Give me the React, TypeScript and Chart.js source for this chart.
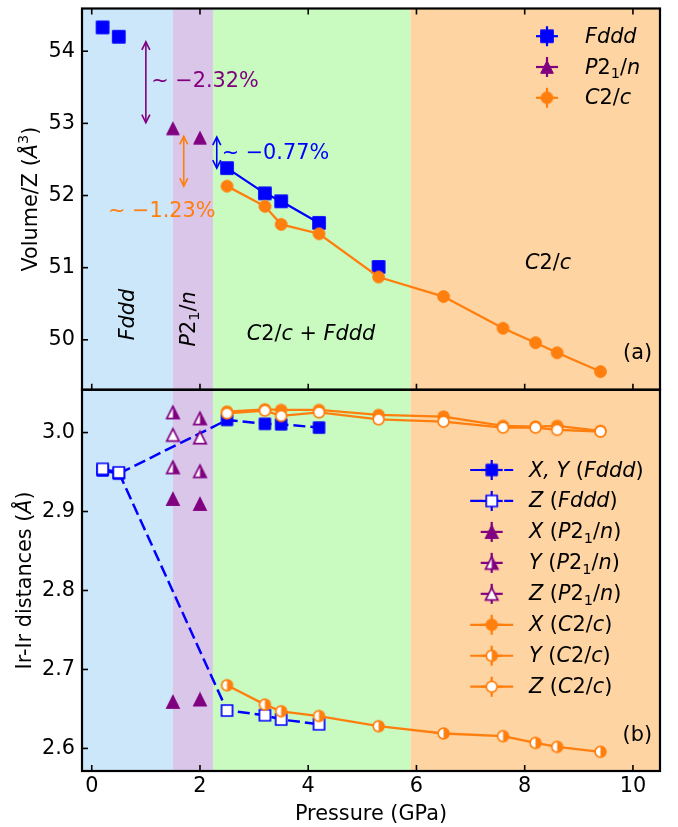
import React, { useEffect, useRef } from 'react';
import { Chart, registerables } from 'chart.js';

Chart.register(...registerables);

const FONT = '"DejaVu Sans", "Liberation Sans", sans-serif';
const FS = 20.8;
const BLUE = '#0000ff';
const PURPLE = '#800080';
const ORANGE = '#ff7f0e';

// ---------- Panel (a): Volume/Z vs pressure ----------
const pFdddVol = [0.2, 0.5, 2.5, 3.2, 3.5, 4.2, 5.3];
const vFddd = [54.33, 54.2, 52.38, 52.03, 51.92, 51.62, 51.01];
const pP21nVol = [1.5, 2.0];
const vP21n = [52.93, 52.8];
const pC2c = [2.5, 3.2, 3.5, 4.2, 5.3, 6.5, 7.6, 8.2, 8.6, 9.4];
const vC2c = [52.13, 51.85, 51.6, 51.47, 50.87, 50.6, 50.16, 49.96, 49.82, 49.56];

// ---------- Panel (b): Ir-Ir distances vs pressure ----------
const pFddd = [0.2, 0.5, 2.5, 3.2, 3.5, 4.2];
const dFdddXY = [2.952, 2.948, 3.016, 3.011, 3.0105, 3.0063];
const dFdddZ = [2.954, 2.9495, 2.648, 2.642, 2.6366, 2.6306];
const pP21nX = [1.5, 1.5, 2.0, 2.0];
const dP21nX = [2.916, 2.659, 2.9096, 2.662];
const pP21nY = [1.5, 1.5, 2.0, 2.0];
const dP21nY = [3.0256, 2.956, 3.018, 2.951];
const pP21nZ = [1.5, 2.0];
const dP21nZ = [2.997, 2.9937];
const dC2cX = [3.0265, 3.0294, 3.0286, 3.0286, 3.0223, 3.0202, 3.0084, 3.0076, 3.0084, 3.002];
const dC2cY = [2.68, 2.6555, 2.647, 2.641, 2.6281, 2.6189, 2.6155, 2.607, 2.602, 2.5957];
const dC2cZ = [3.0243, 3.0277, 3.0211, 3.0256, 3.0168, 3.0139, 3.0063, 3.0063, 3.0034, 3.0013];

// ---------- axes ----------
const xMin = -0.18;
const xMax = 10.5;
const yMinA = 49.308;
const yMaxA = 54.592;
const yMinB = 2.5714;
const yMaxB = 3.0542;
const xTicks = [0, 2, 4, 6, 8, 10];
const yTicksA = [50, 51, 52, 53, 54];
const yTicksB = [2.6, 2.7, 2.8, 2.9, 3.0];

// phase regions
const bandEdges = [xMin, 1.5, 2.24, 5.89, xMax];
const bandColors = ['#cce6fa', '#dac6e9', '#c9fbc0', '#fed4a2'];

// volume-collapse annotations (pressure, top, bottom)
const arrowX = [1.0, 1.7, 2.31];
const arrowTop = [54.13, 52.82, 52.81];
const arrowBottom = [53.01, 52.13, 52.38];
const arrowColors = [PURPLE, ORANGE, BLUE];
const noteText = ['\u223C \u22122.32%', '\u223C \u22121.23%', '\u223C \u22120.77%'];
const noteX = [1.1, 0.3, 2.4];
const noteY = [53.5, 51.7, 52.5];

type Seg = { t: string; i?: boolean; sub?: boolean; sup?: boolean };
const S = (t: string, i = false, sub = false, sup = false): Seg => ({ t, i, sub, sup });
const segFddd = [S('Fddd', true)];
const segP21n = [S('P', true), S('2'), S('1', false, true), S('/'), S('n', true)];
const segC2c = [S('C', true), S('2/'), S('c', true)];

function segFont(s: Seg, size: number) {
  const sz = s.sub || s.sup ? size * 0.7 : size;
  return `${s.i ? 'italic ' : ''}${sz}px ${FONT}`;
}
function richWidth(ctx: CanvasRenderingContext2D, segs: Seg[], size: number) {
  let w = 0;
  for (const s of segs) {
    ctx.font = segFont(s, size);
    w += ctx.measureText(s.t).width;
  }
  return w;
}
function drawRich(
  ctx: CanvasRenderingContext2D,
  segs: Seg[],
  x: number,
  y: number,
  color: string,
  align: 'left' | 'center' | 'right' = 'left',
  rot = 0,
  size = FS
) {
  ctx.save();
  ctx.translate(x, y);
  ctx.rotate(rot);
  const w = richWidth(ctx, segs, size);
  let cx = align === 'left' ? 0 : align === 'center' ? -w / 2 : -w;
  ctx.fillStyle = color;
  ctx.textAlign = 'left';
  ctx.textBaseline = 'alphabetic';
  for (const s of segs) {
    ctx.font = segFont(s, size);
    const dy = s.sub ? size * 0.2 : s.sup ? -size * 0.42 : 0;
    ctx.fillText(s.t, cx, dy);
    cx += ctx.measureText(s.t).width;
  }
  ctx.restore();
}

type Fill = 'full' | 'right' | 'none';
function makeMarker(shape: 'sq' | 'tri' | 'cir', size: number, color: string, fill: Fill, lw: number) {
  const dim = Math.ceil(size + lw + 2);
  const c = document.createElement('canvas');
  c.width = dim;
  c.height = dim;
  const g = c.getContext('2d') as CanvasRenderingContext2D;
  const cx = dim / 2;
  const cy = dim / 2;
  const h = size / 2;
  const path = () => {
    g.beginPath();
    if (shape === 'sq') g.rect(cx - h, cy - h, size, size);
    else if (shape === 'tri') {
      g.moveTo(cx, cy - h);
      g.lineTo(cx + h, cy + h);
      g.lineTo(cx - h, cy + h);
      g.closePath();
    } else g.arc(cx, cy, h, 0, Math.PI * 2);
  };
  path();
  g.fillStyle = fill === 'full' ? color : '#ffffff';
  g.fill();
  if (fill === 'right') {
    g.save();
    path();
    g.clip();
    g.fillStyle = color;
    g.fillRect(cx, 0, dim, dim);
    g.restore();
  }
  path();
  g.lineWidth = lw;
  g.strokeStyle = color;
  g.stroke();
  return c;
}

const pts = (xs: number[], ys: number[]) => xs.map((x, i) => ({ x, y: ys[i] }));

function buildChart(canvas: HTMLCanvasElement) {
  const mk = {
    sqA: makeMarker('sq', 12.6, BLUE, 'full', 1),
    triA: makeMarker('tri', 12.6, PURPLE, 'full', 1),
    cirA: makeMarker('cir', 11.8, ORANGE, 'full', 1),
    sqB: makeMarker('sq', 11.4, BLUE, 'full', 1),
    sqBo: makeMarker('sq', 11, BLUE, 'none', 1.7),
    triB: makeMarker('tri', 12.8, PURPLE, 'full', 1.2),
    triBh: makeMarker('tri', 12.4, PURPLE, 'right', 1.7),
    triBo: makeMarker('tri', 12.4, PURPLE, 'none', 1.7),
    cirB: makeMarker('cir', 11.2, ORANGE, 'full', 1.2),
    cirBh: makeMarker('cir', 10.8, ORANGE, 'right', 1.7),
    cirBo: makeMarker('cir', 10.8, ORANGE, 'none', 1.7),
  };

  const legendA = [
    { segs: segFddd, marker: mk.sqA, color: BLUE },
    { segs: segP21n, marker: mk.triA, color: PURPLE },
    { segs: segC2c, marker: mk.cirA, color: ORANGE },
  ];
  const wrap = (pre: string, inner: Seg[]) => [S(pre, true), S(' ('), ...inner, S(')')];
  const legendB = [
    { segs: wrap('X, Y', segFddd), marker: mk.sqB, color: BLUE, line: 'dash' },
    { segs: wrap('Z', segFddd), marker: mk.sqBo, color: BLUE, line: 'dash' },
    { segs: wrap('X', segP21n), marker: mk.triB, color: PURPLE, line: '' },
    { segs: wrap('Y', segP21n), marker: mk.triBh, color: PURPLE, line: '' },
    { segs: wrap('Z', segP21n), marker: mk.triBo, color: PURPLE, line: '' },
    { segs: wrap('X', segC2c), marker: mk.cirB, color: ORANGE, line: 'solid' },
    { segs: wrap('Y', segC2c), marker: mk.cirBh, color: ORANGE, line: 'solid' },
    { segs: wrap('Z', segC2c), marker: mk.cirBo, color: ORANGE, line: 'solid' },
  ];

  const line = (ctx: CanvasRenderingContext2D, x1: number, y1: number, x2: number, y2: number) => {
    ctx.beginPath();
    ctx.moveTo(x1, y1);
    ctx.lineTo(x2, y2);
    ctx.stroke();
  };

  const drawLegendEntry = (
    ctx: CanvasRenderingContext2D,
    e: { segs: Seg[]; marker: HTMLCanvasElement; color: string; line?: string },
    mx: number,
    my: number,
    tx: number
  ) => {
    ctx.save();
    ctx.strokeStyle = e.color;
    ctx.lineWidth = 2.2;
    if (e.line) {
      ctx.setLineDash(e.line === 'dash' ? [12, 5] : []);
      line(ctx, mx - 21.5, my, mx + 21.5, my);
      ctx.setLineDash([]);
    }
    line(ctx, mx - 11, my, mx + 11, my);
    line(ctx, mx, my - 10, mx, my + 10);
    const m = e.marker;
    ctx.drawImage(m, mx - m.width / 2, my - m.height / 2);
    ctx.restore();
    drawRich(ctx, e.segs, tx, my + 6.5, '#000', 'left');
  };

  const overlay = {
    id: 'overlay',
    beforeDatasetsDraw(chart: any) {
      const { ctx, chartArea: ca } = chart;
      const sx = chart.scales.x;
      ctx.save();
      for (let i = 0; i < bandColors.length; i++) {
        const x0 = sx.getPixelForValue(bandEdges[i]);
        const x1 = sx.getPixelForValue(bandEdges[i + 1]);
        ctx.fillStyle = bandColors[i];
        ctx.fillRect(x0, ca.top, x1 - x0, ca.bottom - ca.top);
      }
      ctx.restore();
    },
    afterDraw(chart: any) {
      const ctx: CanvasRenderingContext2D = chart.ctx;
      const ca = chart.chartArea;
      const sx = chart.scales.x;
      const sa = chart.scales.ya;
      const sb = chart.scales.yb;
      const X = (v: number) => sx.getPixelForValue(v);
      const YA = (v: number) => sa.getPixelForValue(v);
      const YB = (v: number) => sb.getPixelForValue(v);

      // phase labels panel (a)
      drawRich(ctx, segFddd, X(0.78), YA(50.35), '#000', 'center', -Math.PI / 2);
      drawRich(ctx, segP21n, X(1.9), YA(50.29), '#000', 'center', -Math.PI / 2);
      drawRich(
        ctx,
        [S('C', true), S('2/'), S('c', true), S(' + '), S('Fddd', true)],
        X(4.05),
        YA(50.0),
        '#000',
        'center'
      );
      drawRich(ctx, segC2c, X(8.43), YA(50.98), '#000', 'center');
      drawRich(ctx, [S('(a)')], ca.right - 8, YA(49.73), '#000', 'right');
      drawRich(ctx, [S('(b)')], ca.right - 8, YB(2.6096), '#000', 'right');

      // arrows + percentages
      ctx.save();
      ctx.lineWidth = 1.6;
      for (let i = 0; i < arrowX.length; i++) {
        const x = X(arrowX[i]);
        const y1 = YA(arrowTop[i]);
        const y2 = YA(arrowBottom[i]);
        ctx.strokeStyle = arrowColors[i];
        line(ctx, x, y1, x, y2);
        ctx.beginPath();
        ctx.moveTo(x - 4, y1 + 8);
        ctx.lineTo(x, y1);
        ctx.lineTo(x + 4, y1 + 8);
        ctx.moveTo(x - 4, y2 - 8);
        ctx.lineTo(x, y2);
        ctx.lineTo(x + 4, y2 - 8);
        ctx.stroke();
      }
      ctx.restore();
      for (let i = 0; i < noteText.length; i++) {
        drawRich(ctx, [S(noteText[i])], X(noteX[i]), YA(noteY[i]), arrowColors[i], 'left');
      }

      // legends
      legendA.forEach((e, i) => drawLegendEntry(ctx, e, ca.right - 113, sa.top + 27.7 + i * 30.8, ca.right - 75));
      legendB.forEach((e, i) => drawLegendEntry(ctx, e, ca.right - 168.3, 470 + i * 30.96, ca.right - 131));

      // frames
      ctx.save();
      ctx.strokeStyle = '#000';
      ctx.lineWidth = 2.2;
      ctx.strokeRect(ca.left, sa.top, ca.right - ca.left, sa.bottom - sa.top);
      ctx.strokeRect(ca.left, sb.top, ca.right - ca.left, sb.bottom - sb.top);
      // inward ticks
      ctx.lineWidth = 1.6;
      const TL = 6;
      xTicks.forEach((v) => {
        const px = X(v);
        line(ctx, px, sa.top, px, sa.top + TL);
        line(ctx, px, sa.bottom, px, sa.bottom - TL);
        line(ctx, px, sb.bottom, px, sb.bottom - TL);
      });
      yTicksA.forEach((v) => line(ctx, ca.left, YA(v), ca.left + TL, YA(v)));
      yTicksB.forEach((v) => line(ctx, ca.left, YB(v), ca.left + TL, YB(v)));
      ctx.restore();

      // axis titles
      drawRich(
        ctx,
        [S('Volume/Z ('), S('\u00C5', true), S('3', false, false, true), S(')')],
        36.5,
        (sa.top + sa.bottom) / 2,
        '#000',
        'center',
        -Math.PI / 2
      );
      drawRich(
        ctx,
        [S('Ir-Ir distances ('), S('\u00C5', true), S(')')],
        30.5,
        (sb.top + sb.bottom) / 2,
        '#000',
        'center',
        -Math.PI / 2
      );
      drawRich(ctx, [S('Pressure (GPa)')], (ca.left + ca.right) / 2, 820, '#000', 'center');
    },
  };

  const tickFont = { family: FONT, size: FS };
  const zeroPad = (s: any) => {
    s.paddingTop = 0;
    s.paddingBottom = 0;
    s.paddingLeft = 0;
    s.paddingRight = 0;
  };
  const yScale = (min: number, max: number, ticks: number[], digits: number) => ({
    type: 'linear',
    position: 'left',
    stack: 'panels',
    stackWeight: 1,
    min,
    max,
    grid: { display: false, drawTicks: false },
    border: { display: false },
    ticks: {
      font: tickFont,
      color: '#000',
      padding: 7,
      callback: (v: any) => Number(v).toFixed(digits),
    },
    afterBuildTicks: (s: any) => {
      s.ticks = ticks.map((value) => ({ value }));
    },
    afterFit: (s: any) => {
      s.width = 82;
      zeroPad(s);
    },
  });

  const noLine = { showLine: false, pointRadius: 6, pointHoverRadius: 6 };
  const LW = 2.3;

  return new Chart(canvas, {
    type: 'line',
    data: {
      datasets: [
        // ---- panel (a)
        {
          label: 'Fddd',
          data: pts(pFdddVol, vFddd),
          yAxisID: 'ya',
          showLine: true,
          borderColor: BLUE,
          borderWidth: LW,
          pointStyle: mk.sqA,
          pointRadius: 6,
          segment: {
            borderColor: (c: any) => (c.p0DataIndex >= 2 && c.p1DataIndex <= 5 ? BLUE : 'rgba(0,0,0,0)'),
          },
          order: 10,
        },
        { label: 'P21/n', data: pts(pP21nVol, vP21n), yAxisID: 'ya', ...noLine, pointStyle: mk.triA, order: 8 },
        {
          label: 'C2/c',
          data: pts(pC2c, vC2c),
          yAxisID: 'ya',
          showLine: true,
          borderColor: ORANGE,
          borderWidth: LW,
          pointStyle: mk.cirA,
          pointRadius: 6,
          order: 3,
        },
        // ---- panel (b)
        {
          label: 'X, Y (Fddd)',
          data: pts(pFddd, dFdddXY),
          yAxisID: 'yb',
          showLine: true,
          borderColor: BLUE,
          borderWidth: 2.5,
          borderDash: [12, 5],
          pointStyle: mk.sqB,
          pointRadius: 6,
          order: 10,
        },
        {
          label: 'Z (Fddd)',
          data: pts(pFddd, dFdddZ),
          yAxisID: 'yb',
          showLine: true,
          borderColor: BLUE,
          borderWidth: 2.5,
          borderDash: [12, 5],
          pointStyle: mk.sqBo,
          pointRadius: 6,
          order: 9,
        },
        { label: 'X (P21/n)', data: pts(pP21nX, dP21nX), yAxisID: 'yb', ...noLine, pointStyle: mk.triB, order: 8 },
        { label: 'Y (P21/n)', data: pts(pP21nY, dP21nY), yAxisID: 'yb', ...noLine, pointStyle: mk.triBh, order: 7 },
        { label: 'Z (P21/n)', data: pts(pP21nZ, dP21nZ), yAxisID: 'yb', ...noLine, pointStyle: mk.triBo, order: 6 },
        {
          label: 'Y (C2/c)',
          data: pts(pC2c, dC2cY),
          yAxisID: 'yb',
          showLine: true,
          borderColor: ORANGE,
          borderWidth: LW,
          pointStyle: mk.cirBh,
          pointRadius: 6,
          order: 5,
        },
        {
          label: 'X (C2/c)',
          data: pts(pC2c, dC2cX),
          yAxisID: 'yb',
          showLine: true,
          borderColor: ORANGE,
          borderWidth: LW,
          pointStyle: mk.cirB,
          pointRadius: 6,
          order: 4,
        },
        {
          label: 'Z (C2/c)',
          data: pts(pC2c, dC2cZ),
          yAxisID: 'yb',
          showLine: true,
          borderColor: ORANGE,
          borderWidth: LW,
          pointStyle: mk.cirBo,
          pointRadius: 6,
          order: 3,
        },
      ] as any,
    },
    options: {
      responsive: false,
      animation: false,
      events: [],
      layout: { padding: { top: 4, right: 18, left: 0, bottom: 0 } },
      elements: { line: { tension: 0 } },
      plugins: { legend: { display: false }, tooltip: { enabled: false } },
      scales: {
        x: {
          type: 'linear',
          position: 'bottom',
          min: xMin,
          max: xMax,
          grid: { display: false, drawTicks: false },
          border: { display: false },
          ticks: { font: tickFont, color: '#000', padding: 3, maxRotation: 0, autoSkip: false },
          afterBuildTicks: (s: any) => {
            s.ticks = xTicks.map((value) => ({ value }));
          },
          afterFit: (s: any) => {
            s.height = 56;
            zeroPad(s);
          },
        },
        yb: yScale(yMinB, yMaxB, yTicksB, 1),
        ya: yScale(yMinA, yMaxA, yTicksA, 0),
      } as any,
    },
    plugins: [overlay],
  });
}

export default function App() {
  const ref = useRef<HTMLCanvasElement>(null);
  useEffect(() => {
    const chart = buildChart(ref.current as HTMLCanvasElement);
    return () => chart.destroy();
  }, []);
  return (
    <div style={{ position: 'fixed', left: 0, top: 0, width: 678, height: 827, background: '#ffffff' }}>
      <canvas ref={ref} width={678} height={827} style={{ display: 'block', width: 678, height: 827 }} />
    </div>
  );
}
